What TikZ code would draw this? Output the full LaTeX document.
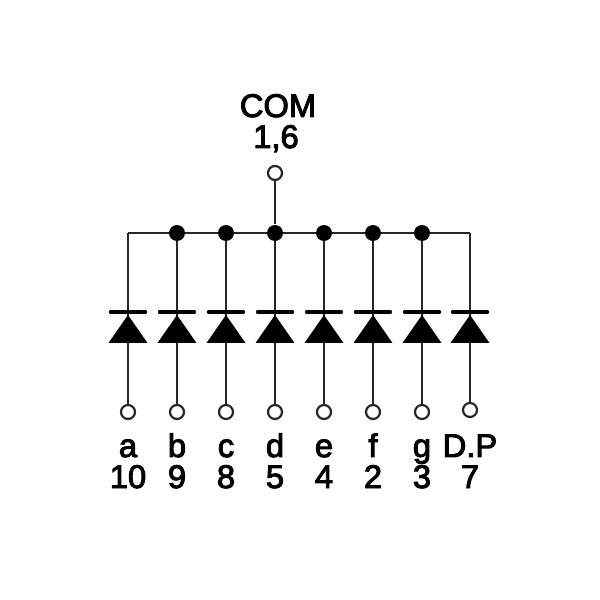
\documentclass[tikz,border=0pt]{standalone}
\usepackage{fontspec}
\setmainfont[RawFeature={embolden=3}]{Liberation Sans}
\tikzset{
wire/.style={line width=.72pt,color=black!85},
pin/.style={circle,draw=black!85,line width=.62pt,fill=white,inner sep=0pt,minimum size=.14cm},
joint/.style={circle,fill=black,inner sep=0pt,minimum size=.16cm},
bar/.style={line width=.95pt,color=black,line cap=round},
label/.style={anchor=base,inner sep=0pt,font=\fontsize{9.3}{11}\selectfont}
}
\begin{document}
\begin{tikzpicture}
\useasboundingbox (0,0) rectangle (6,6);
\coordinate (busa) at (1.28,3.67);
\coordinate (busdp) at (4.70,3.67);
\draw[wire](busa)--(busdp);
\foreach \x/\pos/\name/\seg/\num in {1.28/1.88/a/a/10,1.77/1.88/b/b/9,2.26/1.88/c/c/8,2.75/1.88/d/d/5,3.24/1.88/e/e/4,3.73/1.88/f/f/2,4.22/1.88/g/g/3,4.70/1.90/dp/D.P/7}{
\coordinate (bus\name) at (\x,3.67);
\node[pin](pin\name) at (\x,\pos) {};
\draw[wire](bus\name)--(pin\name);
\draw[bar](\x-.175,2.88)--(\x+.175,2.88);
\fill (\x-.195,2.57)--(\x+.195,2.57)--(\x,2.85)--cycle;
\node[label](seg\name) at (\x,1.43) {\seg};
\node[label](num\name) at (\x,1.12) {\num};
}
\foreach \name in {b,c,d,e,f,g}{
\node[joint](dot\name) at (bus\name) {};
}
\node[pin](pincom) at (2.75,4.27) {};
\draw[wire](pincom)--(dotd);
\node[label](numcom) at (2.76,4.52) {1,6};
\node[label](com) at (2.78,4.83) {COM};
\end{tikzpicture}
\end{document}
